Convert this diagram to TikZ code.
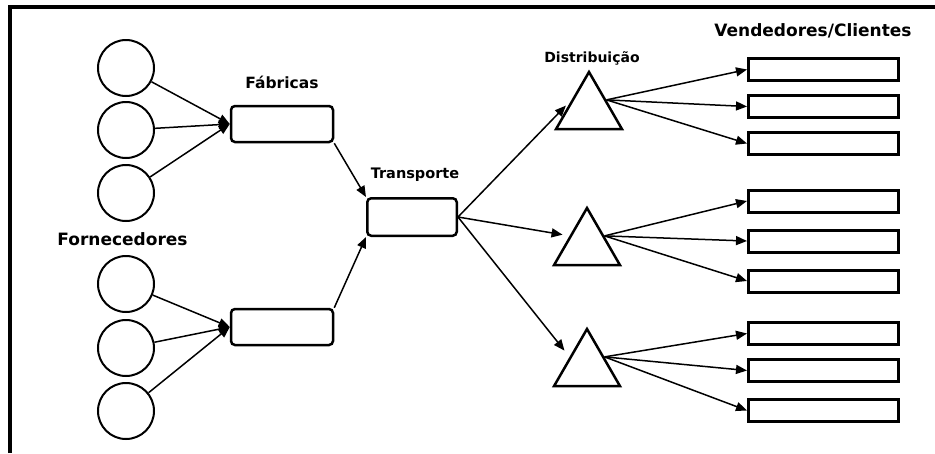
\documentclass[tikz,border=0pt]{standalone}
\usepackage{fontspec}
\setmainfont{DejaVu Sans}
\usetikzlibrary{arrows.meta,shapes.geometric}
\begin{document}
\begin{tikzpicture}[x=1pt,y=-1pt,line width=2pt,
forn/.style={circle,draw,minimum size=56pt,inner sep=0pt},
fabr/.style={rectangle,draw,rounded corners=4pt,line width=2.5pt,minimum width=102pt,minimum height=36pt,inner sep=0pt},
dist/.style={regular polygon,regular polygon sides=3,draw,line width=2.5pt,minimum size=76pt,inner sep=0pt},
vend/.style={rectangle,draw,line width=3pt,minimum width=150pt,minimum height=22pt,inner sep=0pt},
seta/.style={-{Triangle[length=11pt,width=9pt]},line width=1.5pt},
rotulo/.style={anchor=base,inner sep=0pt}]
\useasboundingbox (0,0) rectangle (935,453);
\draw [line width=3.5pt] (10,453) -- (10,7) -- (935,7);
\node[forn] (f1) at (126,68) {};
\node[forn] (f2) at (126,130) {};
\node[forn] (f3) at (126,193) {};
\node[forn] (f4) at (126,284) {};
\node[forn] (f5) at (126,348) {};
\node[forn] (f6) at (126,411) {};
\node[fabr] (fab1) at (282,124) {};
\node[fabr] (fab2) at (282,327) {};
\node[fabr,minimum width=89.5pt,minimum height=37.5pt] (trans) at (412,217) {};
\node[dist] (d1) at (589,110) {};
\node[dist] (d2) at (587,246) {};
\node[dist] (d3) at (587,367) {};
\node[vend] (v1) at (823.5,69.5) {};
\node[vend] (v2) at (823.5,106.5) {};
\node[vend] (v3) at (823.5,143.5) {};
\node[vend] (v4) at (823.5,201) {};
\node[vend] (v5) at (823.5,241) {};
\node[vend] (v6) at (823.5,281) {};
\node[vend] (v7) at (823.5,333.5) {};
\node[vend] (v8) at (823.5,370.5) {};
\node[vend] (v9) at (823.5,410.5) {};
\node[rotulo,font=\bfseries\fontsize{17}{20}\selectfont] (lforn) at (122.5,245) {Fornecedores};
\node[rotulo,font=\bfseries\fontsize{15.5}{18}\selectfont] (lfab) at (282,88) {Fábricas};
\node[rotulo,font=\bfseries\fontsize{14.5}{17}\selectfont] (ltrans) at (415,178.5) {Transporte};
\node[rotulo,font=\bfseries\fontsize{14}{16}\selectfont] (ldist) at (592,62) {Distribuição};
\node[rotulo,font=\bfseries\fontsize{17}{20}\selectfont] (lvend) at (813,36) {Vendedores/Clientes};
\draw [seta] (f1) -- (fab1.west);
\draw [seta] (f2) -- (fab1.west);
\draw [seta] (f3) -- (fab1.west);
\draw [seta] (f4) -- (fab2.west);
\draw [seta] (f5) -- (fab2.west);
\draw [seta] (f6) -- (fab2.west);
\draw [seta] (fab1.south east) -- (trans.north west);
\draw [seta] (fab2.north east) -- (trans.south west);
\draw [seta,shorten >=8pt] (trans.east) -- (d1.side 1);
\draw [seta,shorten >=7pt] (trans.east) -- (d2.side 1);
\draw [seta,shorten >=8pt] (trans.east) -- (d3.side 1);
\draw [seta] (d1.side 3) -- (v1.west);
\draw [seta] (d1.side 3) -- (v2.west);
\draw [seta] (d1.side 3) -- (v3.west);
\draw [seta] (d2.side 3) -- (v4.west);
\draw [seta] (d2.side 3) -- (v5.west);
\draw [seta] (d2.side 3) -- (v6.west);
\draw [seta] (d3.side 3) -- (v7.west);
\draw [seta] (d3.side 3) -- (v8.west);
\draw [seta] (d3.side 3) -- (v9.west);
\end{tikzpicture}
\end{document}
